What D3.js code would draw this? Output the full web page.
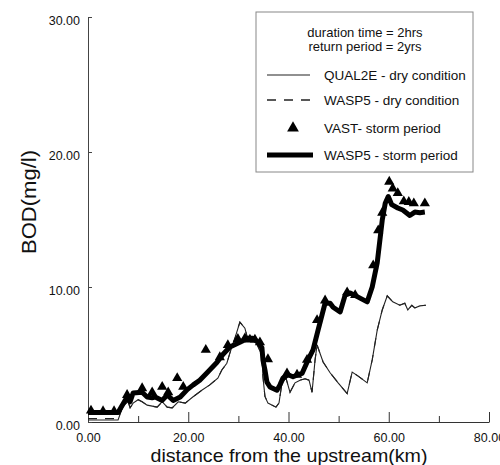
<!DOCTYPE html>
<html>
<head>
<meta charset="utf-8">
<script src="https://cdn.jsdelivr.net/npm/d3@7"></script>
<style>
  body { margin: 0; background: #fff; }
  svg { display: block; }
  text { font-family: "Liberation Sans", Arial, Helvetica, sans-serif; fill: #111; }
</style>
</head>
<body>
<svg id="chart" width="500" height="465"></svg>
<script>
// Distance from the upstream end (km) and BOD (mg/l) for each run.
const stormKm = [0,6.0,7.8,8.4,9.0,10.8,11.8,12.8,13.4,14.8,15.8,17.0,18.4,19.8,21.0,22.3,23.9,25.7,26.9,28.3,30.3,31.9,32.9,33.9,34.7,34.9,35.3,35.7,36.3,37.7,38.3,38.9,39.9,40.9,41.9,42.7,43.9,44.9,45.9,47.3,48.3,48.9,50.3,51.3,52.3,53.9,55.7,56.7,57.7,58.7,59.3,59.9,60.6,61.8,62.8,64.2,65.2,66.2,67.2];
const wasp5StormBod = [0.7,0.7,1.85,1.5,2.15,2.2,1.85,1.8,1.85,1.6,2.0,1.6,1.85,2.4,2.75,3.1,3.7,4.4,5.0,5.55,5.9,6.2,6.2,5.9,5.5,4.6,3.85,2.95,2.6,2.35,2.75,3.25,3.5,3.35,3.5,3.6,4.6,5.35,6.8,8.8,8.8,8.5,8.15,9.4,9.55,9.25,8.9,10.0,11.8,14.95,16.2,16.7,16.1,15.85,15.7,15.3,15.55,15.5,15.55];

const vastKm = [0.6,3.0,5.2,7.8,10.8,12.8,14.8,16.0,17.8,19.0,23.5,26.3,27.9,29.9,31.3,32.3,33.3,34.3,35.9,39.7,41.7,43.7,45.7,47.3,51.7,53.3,56.9,57.9,58.7,60.1,60.8,61.8,63.0,64.0,65.0,67.2];
const vastBod = [0.85,0.8,0.8,2.0,2.5,2.2,2.6,2.2,3.25,2.6,5.35,4.8,5.7,6.15,6.2,6.1,6.1,5.9,4.65,3.6,3.5,4.6,7.55,9.0,9.6,9.4,11.6,14.2,15.5,17.8,17.3,16.95,16.35,16.3,16.2,16.2];

const dryKm = [0,6.0,7.0,8.0,8.4,9.0,10.0,10.8,11.8,13.8,14.8,15.8,16.8,18.0,19.4,20.9,22.7,24.3,25.9,26.7,27.7,28.3,29.3,30.3,31.3,31.9,33.3,34.7,34.9,35.3,35.9,37.5,38.1,38.7,39.5,40.3,41.3,42.3,43.3,44.1,44.7,45.3,45.7,46.9,48.3,49.9,51.7,52.7,53.9,55.7,56.7,57.7,58.7,59.7,60.8,62.2,63.2,63.8,64.6,65.2,66.2,67.4];
const qual2eDryBod = [0.15,0.15,1.2,1.5,1.05,1.4,1.65,1.5,1.25,1.1,1.5,1.1,1.05,1.5,1.4,1.85,2.35,2.75,3.25,3.85,4.35,5.1,6.2,7.4,6.95,6.1,6.1,4.95,3.35,1.9,1.4,1.1,1.4,2.9,3.25,2.2,2.9,3.1,3.2,3.1,2.2,4.6,5.7,4.45,3.65,2.9,2.1,3.7,3.4,2.9,4.6,6.8,8.3,9.35,8.9,8.65,8.8,8.3,8.65,8.45,8.6,8.65];
const wasp5DryBod = [0.25,0.25,1.2,1.5,1.05,1.4,1.65,1.5,1.25,1.1,1.5,1.1,1.05,1.5,1.4,1.85,2.35,2.75,3.25,3.85,4.35,5.1,6.2,7.4,6.95,6.1,6.1,4.95,3.35,1.9,1.4,1.1,1.4,2.9,3.25,2.2,2.9,3.1,3.2,3.1,2.2,4.6,5.7,4.45,3.65,2.9,2.1,3.7,3.4,2.9,4.6,6.8,8.3,9.35,8.9,8.65,8.8,8.3,8.65,8.45,8.6,8.65];

const xTicks = [0,10,20,30,40,50,60,70,80];
const xLabelTicks = [0,20,40,60,80];
const yTicks = [0,10,20,30];

const legendNotes = ["duration time = 2hrs", "return period = 2yrs"];
const legendLabels = ["QUAL2E - dry condition", "WASP5 - dry condition", "VAST- storm period", "WASP5 - storm period"];

const svg = d3.select("#chart");
const x = d3.scaleLinear().domain([0, 80]).range([88, 489]);
const y = d3.scaleLinear().domain([0, 30]).range([422, 17]);
const fmt = d3.format(".2f");

// x axis: ticks point up into the plot, labels every 20 km
const gx = svg.append("g").attr("transform", `translate(0,${y(0)})`)
  .call(d3.axisBottom(x).tickValues(xTicks).tickSizeInner(-6).tickSizeOuter(0)
    .tickFormat(d => xLabelTicks.includes(d) ? fmt(d) : ""));
gx.select(".domain").attr("stroke", "#333");
gx.selectAll(".tick line").attr("stroke", "#333")
  .attr("y2", d => (d % 20 === 0 && d > 0) ? -10 : -6);
gx.selectAll(".tick text").attr("y", 11).attr("dy", "0.71em")
  .style("font-size", "12.5px").style("font-family", "'Liberation Sans', Arial, sans-serif").attr("fill", "#111");

// y axis
const gy = svg.append("g").attr("transform", `translate(${x(0)},0)`)
  .call(d3.axisLeft(y).tickValues(yTicks).tickSizeInner(-4).tickSizeOuter(0).tickFormat(fmt).tickPadding(8));
gy.select(".domain").attr("stroke", "#444");
gy.selectAll(".tick line").attr("stroke", "#444");
gy.selectAll(".tick text").attr("y", 3)
  .style("font-size", "12.5px").style("font-family", "'Liberation Sans', Arial, sans-serif").attr("fill", "#111");

// axis titles
svg.append("text").attr("x", 289).attr("y", 461.5).attr("text-anchor", "middle")
  .attr("textLength", 277).attr("lengthAdjust", "spacingAndGlyphs")
  .style("font-size", "19px").text("distance from the upstream(km)");
svg.append("text").attr("transform", "translate(36,202) rotate(-90)").attr("text-anchor", "middle")
  .attr("textLength", 104).attr("lengthAdjust", "spacingAndGlyphs")
  .style("font-size", "20px").text("BOD(mg/l)");

// series
const line = (xs, ys) => d3.line().x((d, i) => x(xs[i])).y(d => y(d))(ys);

svg.append("path").attr("d", line(dryKm, qual2eDryBod))
  .attr("fill", "none").attr("stroke", "#222").attr("stroke-width", 1.1);
svg.append("path").attr("d", line(dryKm, wasp5DryBod))
  .attr("fill", "none").attr("stroke", "#222").attr("stroke-width", 1.1).attr("stroke-dasharray", "9,8");
svg.append("path").attr("d", line(stormKm, wasp5StormBod))
  .attr("fill", "none").attr("stroke", "#000").attr("stroke-width", 5).attr("stroke-linejoin", "round");

const tri = d3.symbol().type(d3.symbolTriangle).size(45);
svg.append("g").selectAll("path").data(vastBod).join("path")
  .attr("d", tri)
  .attr("transform", (d, i) => `translate(${x(vastKm[i])},${y(d)})`)
  .attr("fill", "#000");

// legend
const lg = svg.append("g");
lg.append("rect").attr("x", 256).attr("y", 12).attr("width", 217).attr("height", 160)
  .attr("fill", "#fff").attr("stroke", "#888").attr("stroke-width", 1);
legendNotes.forEach((t, i) => {
  lg.append("text").attr("x", 365).attr("y", 37 + i * 14).attr("text-anchor", "middle")
    .style("font-size", "13px").text(t);
});
const rowY = [75, 100, 128, 155];
legendLabels.forEach((t, i) => {
  lg.append("text").attr("x", 324).attr("y", rowY[i] + 5).style("font-size", "13.5px").text(t);
});
lg.append("line").attr("x1", 267).attr("x2", 310).attr("y1", rowY[0]).attr("y2", rowY[0])
  .attr("stroke", "#222").attr("stroke-width", 1.1);
lg.append("line").attr("x1", 267).attr("x2", 312).attr("y1", rowY[1]).attr("y2", rowY[1])
  .attr("stroke", "#222").attr("stroke-width", 1.6).attr("stroke-dasharray", "9,8");
lg.append("path").attr("d", d3.symbol().type(d3.symbolTriangle).size(60))
  .attr("transform", `translate(293,${rowY[2]})`).attr("fill", "#000");
lg.append("line").attr("x1", 267).attr("x2", 313).attr("y1", rowY[3]).attr("y2", rowY[3])
  .attr("stroke", "#000").attr("stroke-width", 5);
</script>
</body>
</html>
